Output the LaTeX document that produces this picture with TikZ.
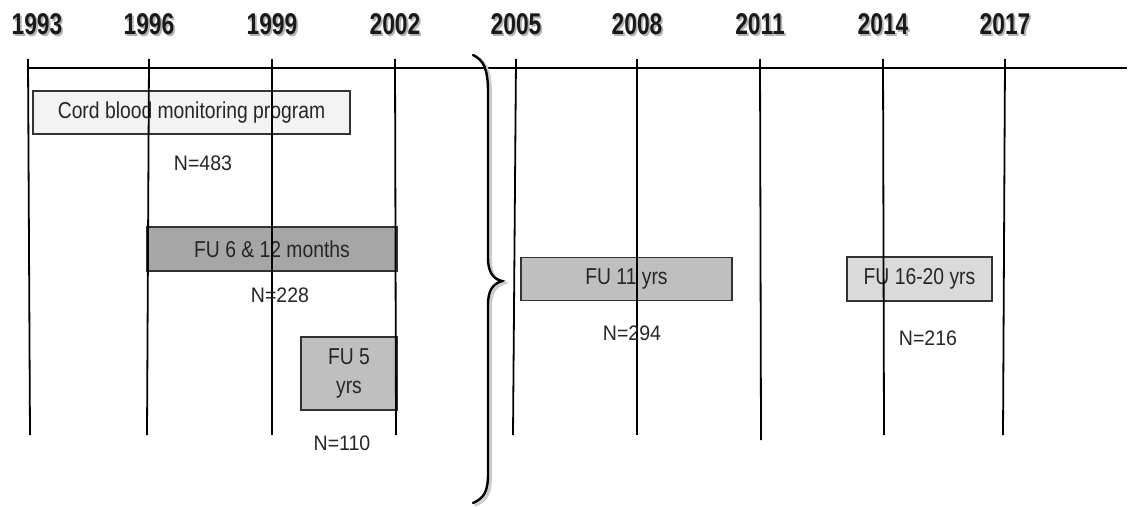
\documentclass[tikz,border=0pt]{standalone}
\usepackage{fontspec}
\setmainfont{Liberation Sans}
\newfontfamily\yearfont[FakeStretch=0.76]{Liberation Sans}
\newfontfamily\boxfont[FakeStretch=0.84]{Liberation Sans}
\newfontfamily\nfont[FakeStretch=0.93]{Liberation Sans}
\definecolor{boxlight}{HTML}{F3F3F3}
\definecolor{boxdark}{HTML}{A6A6A6}
\definecolor{boxmid}{HTML}{BFBFBF}
\definecolor{boxpale}{HTML}{DADADA}
\tikzset{
  yearlbl/.style={font=\yearfont\bfseries\fontsize{30}{32}\selectfont, text=black!90, inner sep=0pt},
  yearshadow/.style={font=\yearfont\bfseries\fontsize{30}{32}\selectfont, text=black!30, inner sep=0pt},
  tick/.style={line width=1.8pt, black},
  period/.style={draw=black!80, line width=1.1pt, inner sep=0pt, text=black!85, font=\boxfont\fontsize{23}{29}\selectfont, align=center},
  nlbl/.style={font=\nfont\fontsize{21}{24}\selectfont, inner sep=0pt, text=black!85}
}
\begin{document}
\begin{tikzpicture}[x=1pt,y=-1pt]
\useasboundingbox (0,0) rectangle (1131,506);
% boxes first, lines drawn over them
\node[period, fill=boxlight, minimum width=317pt, minimum height=43pt] (cord) at (191.5,112.5) {Cord blood monitoring program};
\node[period, fill=boxdark, minimum width=250pt, minimum height=44pt] (fu612) at (272,249) {FU 6 \& 12 months};
\node[period, fill=boxmid, minimum width=96pt, minimum height=73pt] (fu5) at (349,373.5) {FU 5\\yrs};
\node[period, fill=boxmid, minimum width=211pt, minimum height=43pt] (fu11) at (626.5,279) {FU 11 yrs};
\node[period, fill=boxpale, minimum width=145pt, minimum height=44pt] (fu1620) at (919.5,279) {FU 16-20 yrs};
% axis
\coordinate (axL) at (28,68);
\coordinate (axR) at (1127,68);
\draw[tick] (axL) -- (axR);
% year ticks and labels
\foreach \n/\xt/\xb/\yb/\xl/\lbl in {a/28/30/435/37/1993, b/149/147/435/149/1996, c/272/272/435/272/1999, d/395/396/435/395/2002, e/516/513/435/516/2005, f/637/637/435/637/2008, g/760/761/440/760/2011, h/883/884/435/883/2014, i/1005/1003/435/1005/2017}{
  \coordinate (t\n) at (\xt,59);
  \coordinate (b\n) at (\xb,\yb);
  \draw[tick] (t\n) -- (b\n);
  \node[yearshadow] (ys\n) at (\xl+1.8,25.8) {\lbl};
  \node[yearlbl] (y\n) at (\xl,24) {\lbl};
}
% N labels
\node[nlbl] (n483) at (203,163) {N=483};
\node[nlbl] (n228) at (280,295) {N=228};
\node[nlbl] (n110) at (342,443) {N=110};
\node[nlbl] (n294) at (632,333) {N=294};
\node[nlbl] (n216) at (928,338) {N=216};
% brace (soft shadow, then brace)
\draw[line width=3pt, black!20, line cap=round, shift={(2.5,2)}] (473,55) .. controls (484,60) and (488,70) .. (488,92) -- (488,258) .. controls (488,272) and (493,279) .. (502,281) .. controls (493,284) and (488,290) .. (488,305) -- (488,474) .. controls (488,492) and (484,498) .. (473,503);
\draw[line width=2.4pt, line cap=round] (473,55) .. controls (484,60) and (488,70) .. (488,92) -- (488,258) .. controls (488,272) and (493,279) .. (502,281) .. controls (493,284) and (488,290) .. (488,305) -- (488,474) .. controls (488,492) and (484,498) .. (473,503);
\end{tikzpicture}
\end{document}
